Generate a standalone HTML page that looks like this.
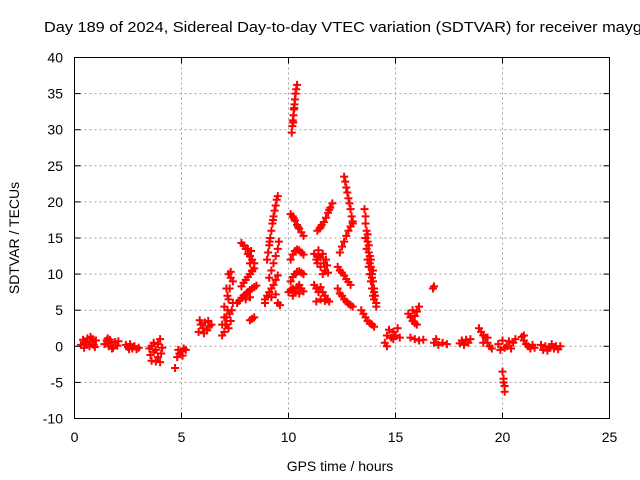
<!DOCTYPE html>
<html><head><meta charset="utf-8"><style>
body{margin:0;background:#fff;}
svg{display:block;font-family:"Liberation Sans",sans-serif;}
</style></head><body>
<svg id="chart" width="640" height="480" viewBox="0 0 640 480">
<rect width="640" height="480" fill="#fff"/>
<text x="44" y="32" font-size="15" textLength="598" lengthAdjust="spacingAndGlyphs" fill="#000">Day 189 of 2024, Sidereal Day-to-day VTEC variation (SDTVAR) for receiver mayg</text>
<g id="grid"></g>
<g id="ticks"></g>
<g id="marks"></g>
<rect x="74.5" y="57.5" width="535" height="361" fill="none" stroke="#000" stroke-width="1"/>
<text x="340" y="471" font-size="14" text-anchor="middle">GPS time / hours</text>
<text transform="translate(19,238) rotate(-90)" font-size="14" text-anchor="middle">SDTVAR / TECUs</text>
</svg>
<script>
const xTicks=[0,5,10,15,20,25];
const yTicks=[-10,-5,0,5,10,15,20,25,30,35,40];
const observations=[
[0.3,0.2],[0.4,0.9],[0.5,0.3],[0.6,1.1],[0.7,0],[0.8,0.7],[0.9,0.2],[1.0,0.8],[0.45,-0.2],[0.75,1.3],[0.95,-0.1],[0.55,0.6],[0.85,1.0],
[1.4,0.3],[1.5,0.8],[1.6,0],[1.7,0.5],[1.8,-0.2],[1.9,0.6],[2.0,0.1],[1.55,1.1],[1.75,-0.3],[2.05,0.7],[1.65,0.9],
[2.4,0.2],[2.5,-0.1],[2.6,0.3],[2.7,-0.3],[2.8,0],[2.9,-0.4],[3.0,-0.2],[2.55,-0.4],
[3.5,-0.3],[3.6,0],[3.7,-0.8],[3.8,-0.5],[3.9,0.3],[4.0,1],[4.1,-0.2],[3.6,-2],[3.8,-2.1],[4.0,-2.2],[3.9,-1.5],[3.7,0.5],[4.05,-1],[3.55,-1.2],
[4.7,-3],[4.8,-1.5],[4.9,-1],[5.0,-0.7],[5.1,-0.3],[5.2,-0.5],[4.85,-0.5],[5.05,-1.3],
[5.8,2],[5.9,3],[6.0,2.5],[6.1,3.3],[6.2,2.2],[6.3,2.8],[6.4,3],[5.85,3.6],[6.05,1.8],[6.25,3.5],
[6.9,1.5],[7.0,2],[7.05,3],[7.1,4],[7.15,5],[7.2,6.5],[7.25,8],[7.3,9.5],[7.1,8],[7.2,10],[7.3,10.3],[7.4,9],[7.0,4],[7.1,3],[7.2,2.5],[7.3,3.5],[7.35,5],[7.4,6],[6.9,3],[7.0,5.5],[7.15,7],[7.25,4.5],
[7.8,14.3],[7.9,14],[8.0,13.5],[8.1,12.8],[8.2,12.5],[8.3,12],[8.4,11.5],[8.1,13.5],[8.25,13.2],[8.3,10.5],[8.2,11.5],
[7.8,8.3],[7.9,8.8],[8.0,9.2],[8.1,9.6],[8.2,10],[8.3,10.4],[8.4,10.8],
[7.7,6.3],[7.8,6.7],[7.9,7],[8.0,7.2],[8.1,7.5],[8.2,7.8],[8.3,8],[8.4,8.2],[8.5,8.4],[7.6,6.0],[8.0,6.5],[8.2,6.8],
[8.3,3.8],[8.4,4],[8.2,3.6],
[8.9,6.5],[9.0,7],[9.1,7.5],[9.2,8],[9.3,8.5],[9.4,9.2],[9.5,9.8],
[9.1,9.5],[9.2,10.5],[9.3,11.5],[9.4,12.5],[9.5,13.5],[9.55,14.5],
[9.5,6],[9.6,5.7],[8.9,6],[9.2,6.8],[9.4,7.2],
[9.0,12],[9.05,13],[9.1,14],[9.15,15],[9.2,16],[9.25,17],[9.3,18],[9.35,18.8],[9.4,19.5],[9.45,20.3],[9.5,20.8],[9.12,14.5],[9.28,17.5],
[10.15,29.6],[10.18,30.5],[10.2,31.3],[10.23,32],[10.25,32.8],[10.28,33.5],[10.3,34.2],[10.33,35],[10.36,35.6],[10.4,36.2],[10.22,31],[10.27,33],
[10.1,18.3],[10.2,18],[10.3,17.4],[10.4,16.8],[10.5,16.3],[10.6,15.8],[10.7,15.3],[10.25,17.7],[10.45,16.5],
[10.1,12],[10.2,12.7],[10.3,13.2],[10.4,13.4],[10.5,13.3],[10.6,13],[10.7,12.7],
[10.1,9],[10.2,9.6],[10.3,10],[10.4,10.3],[10.5,10.4],[10.6,10.2],[10.7,10],
[10.0,7.5],[10.1,7.8],[10.2,8],[10.3,7.5],[10.4,8.2],[10.5,7.3],[10.6,8],[10.7,7.6],[10.2,7],[10.5,8.5],
[11.35,16],[11.45,16.3],[11.55,16.8],[11.65,17.2],[11.75,17.8],[11.85,18.5],[11.95,19.2],[12.05,19.8],[11.5,16.5],[11.9,18.9],
[11.2,12.8],[11.3,12],[11.35,11.5],[11.4,12.5],[11.5,11],[11.5,12.3],[11.6,12.8],[11.65,11.5],[11.7,10.5],[11.75,12],[11.8,11.2],[11.85,10.2],[11.4,13.3],[11.6,10],
[11.2,8.5],[11.3,8],[11.4,7.5],[11.5,8.2],[11.6,7.5],[11.7,7],[11.8,6.5],[11.9,6.2],[11.3,6.2],[11.5,6.5],[11.7,6.3],
[12.6,23.5],[12.65,22.8],[12.7,22],[12.75,21.3],[12.8,20.5],[12.85,19.8],[12.9,19],[12.95,18],[13.0,17.3],
[12.4,13],[12.5,13.8],[12.6,14.5],[12.7,15.3],[12.8,16],[12.9,16.6],[13.0,17],
[12.3,11],[12.4,10.5],[12.5,10.2],[12.6,9.8],[12.7,9.3],[12.8,8.9],[12.9,8.5],
[12.3,8],[12.4,7.3],[12.5,7],[12.6,6.5],[12.7,6.2],[12.8,5.9],[12.9,5.7],[13.0,5.5],
[13.55,19],[13.6,18],[13.6,17],[13.65,16],[13.7,15.5],[13.7,14.5],[13.75,14],[13.75,13],[13.8,12.5],[13.8,11.5],[13.85,11],[13.9,10],[13.9,9.5],[13.95,9],[14.0,8],[14.0,7.5],[14.05,7],[14.1,6],[14.1,5.5],[13.7,12],[13.75,11],[13.8,10],[13.85,9],[13.9,8],[13.95,7],[13.6,15],[13.65,13.5],[14.0,6.5],[13.85,12],[13.95,10.5],
[13.4,5],[13.5,4.5],[13.6,4],[13.7,3.5],[13.8,3.2],[13.9,3],[14.0,2.7],
[14.5,0.5],[14.6,1.5],[14.7,2.3],[14.8,1.2],[14.9,2],[15.0,1.5],[15.1,2.5],[14.6,0],[14.9,1],[15.2,1.2],
[15.6,4.5],[15.7,4],[15.8,3.5],[15.9,4.2],[16.0,4.8],[16.1,5.5],[15.8,5],[16.0,3],[15.9,3.2],[15.7,1.2],[15.9,1],[16.1,0.8],[16.3,0.9],
[16.8,8.3],[16.75,8],[16.8,0.5],[17.0,0.2],[17.2,0.5],[17.4,0.3],[16.9,1],
[18.0,0.4],[18.1,0.8],[18.2,0.2],[18.3,0.9],[18.4,0.5],[18.5,1],
[18.9,2.5],[19.0,2],[19.1,1.5],[19.2,1.2],[19.3,0.5],[19.4,0],[19.5,-0.3],[19.1,0.5],[19.3,1.2],
[20.0,-3.5],[20.05,-4.5],[20.1,-5.5],[20.1,-6.3],[20.05,-5],
[19.8,0.3],[19.9,-0.5],[20.0,0.8],[20.2,0],[20.3,0.7],[20.4,-0.3],[20.5,0.5],[20.6,1],[20.1,-0.2],
[20.9,1.3],[21.0,0.8],[21.1,0.3],[21.2,0],[21.3,-0.3],[21.4,0.2],[21.5,-0.2],[21.0,1.5],
[21.8,0.2],[21.9,-0.5],[22.0,0],[22.1,-0.6],[22.2,-0.2],[22.3,0.3],[22.4,-0.3],[22.5,0],[22.6,-0.4],[22.7,0]
];
const NS='http://www.w3.org/2000/svg';
const X0=74.5,X1=609.5,Y0=418.5,Y1=57.5,XMIN=0,XMAX=25,YMIN=-10,YMAX=40;
function sx(v){return X0+(v-XMIN)/(XMAX-XMIN)*(X1-X0);}
function sy(v){return Y0-(v-YMIN)/(YMAX-YMIN)*(Y0-Y1);}
function mk(tag,attrs,parent){const e=document.createElementNS(NS,tag);for(const k in attrs)e.setAttribute(k,attrs[k]);parent.appendChild(e);return e;}
const grid=document.getElementById('grid'),ticks=document.getElementById('ticks'),marks=document.getElementById('marks');
xTicks.forEach(t=>{const x=sx(t);
 if(t>XMIN&&t<XMAX){const g=mk('line',{x1:x,x2:x,y1:Y1,y2:Y0,stroke:'#a0a0a0','stroke-dasharray':'2,3'},grid);
 
 }
 mk('line',{x1:x,x2:x,y1:Y0,y2:Y0-6,stroke:'#000'},ticks);
 mk('line',{x1:x,x2:x,y1:Y1,y2:Y1+6,stroke:'#000'},ticks);
 const l=mk('text',{x:x,y:442,'font-size':14,'text-anchor':'middle'},ticks);l.textContent=t;
 
 
});
yTicks.forEach(t=>{const y=sy(t);
 if(t>YMIN&&t<YMAX){const g=mk('line',{x1:X0,x2:X1,y1:y,y2:y,stroke:'#a0a0a0','stroke-dasharray':'2,3'},grid);
 
 }
 mk('line',{x1:X0,x2:X0+6,y1:y,y2:y,stroke:'#000'},ticks);
 mk('line',{x1:X1,x2:X1-6,y1:y,y2:y,stroke:'#000'},ticks);
 const l=mk('text',{x:63,y:y+5,'font-size':14,'text-anchor':'end'},ticks);l.textContent=t;
 
 
});
observations.forEach(p=>{const x=sx(p[0]),y=sy(p[1]);
 const m=mk('path',{d:`M${x-4},${y}H${x+4}M${x},${y-4}V${y+4}`,stroke:'#ff0000','stroke-width':2,fill:'none'},marks);
 
 
});
</script>
</body></html>
